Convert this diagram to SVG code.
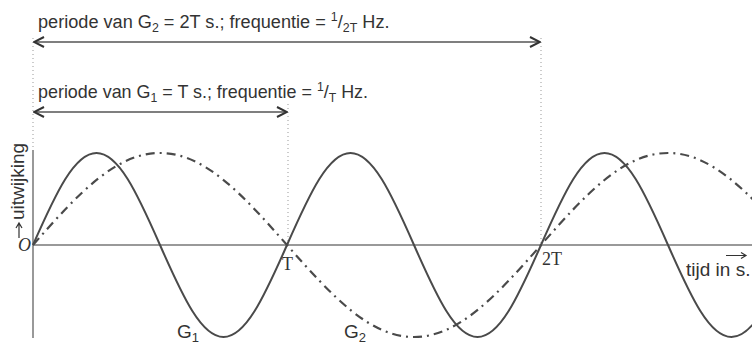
<svg xmlns="http://www.w3.org/2000/svg" width="752" height="344" viewBox="0 0 752 344">
<style>
.lbl{font-family:"Liberation Sans","DejaVu Sans",sans-serif;font-size:19px;fill:#333}
.sub{font-size:13px}
.ser{font-family:"Liberation Serif","DejaVu Serif",serif;font-size:18px;fill:#333}
.it{font-style:italic}
.axis{stroke:#777;stroke-width:1.5;fill:none}
.dot{stroke:#999;stroke-width:1;stroke-dasharray:1 3;fill:none}
.dim{stroke:#555;stroke-width:1.5;fill:none;marker-start:url(#ah);marker-end:url(#ah)}
.g1{stroke:#4a4a4a;stroke-width:2;fill:none}
.g2{stroke:#4a4a4a;stroke-width:2.2;fill:none;stroke-dasharray:9 5 2 5}
.sarr{stroke:#333;stroke-width:1.2;fill:none}
</style>
<defs>
<marker id="ah" viewBox="0 0 12 12" refX="11" refY="6" markerWidth="12" markerHeight="12" markerUnits="userSpaceOnUse" orient="auto-start-reverse">
<path d="M1,1 L11,6 L1,11" fill="none" stroke="#333" stroke-width="2"/>
</marker>
</defs>
<g id="guides">
<line class="dot" x1="33" y1="38" x2="33" y2="150"/>
<line class="dot" x1="288" y1="104" x2="288" y2="245"/>
<line class="dot" x1="541" y1="38" x2="541" y2="245"/>
</g>
<g id="axes">
<line class="axis" x1="33" y1="150" x2="33" y2="338"/>
<line class="axis" x1="33" y1="245" x2="752" y2="245"/>
</g>
<g id="connectors">
<line class="dim" x1="34" y1="42" x2="540" y2="42"/>
<line class="dim" x1="34" y1="112" x2="287" y2="112"/>
</g>
<g id="curve-g1">
<path class="g1" d="M33,245 c 23.13,-52.64 41.57,-92 63.5,-92 s 40.37,39.36 63.5,92 s 41.57,92 63.5,92 s 40.37,-39.36 63.5,-92 s 41.57,-92 63.5,-92 s 40.37,39.36 63.5,92 s 41.57,92 63.5,92 s 40.37,-39.36 63.5,-92 s 41.57,-92 63.5,-92 s 40.37,39.36 63.5,92 s 41.57,92 63.5,92 s 40.37,-39.36 63.5,-92"/>
</g>
<g id="curve-g2">
<path class="g2" d="M33,245 c 46.25,-52.64 83.15,-92 127,-92 s 80.75,39.36 127,92 s 83.15,92 127,92 s 80.75,-39.36 127,-92 s 83.15,-92 127,-92 s 80.75,39.36 127,92"/>
</g>
<g id="label-top">
<text class="lbl" transform="translate(38,28) scale(0.955,1)" x="0" y="0">periode van G<tspan class="sub" dy="4">2</tspan><tspan dy="-4"> = 2T s.; frequentie = </tspan><tspan class="sub" dy="-7">1</tspan><tspan dy="7">/</tspan><tspan class="sub" dy="4">2T</tspan><tspan dy="-4"> Hz.</tspan></text>
</g>
<g id="label-mid">
<text class="lbl" transform="translate(38,98) scale(0.943,1)" x="0" y="0">periode van G<tspan class="sub" dy="4">1</tspan><tspan dy="-4"> = T s.; frequentie = </tspan><tspan class="sub" dy="-7">1</tspan><tspan dy="7">/</tspan><tspan class="sub" dy="4">T</tspan><tspan dy="-4"> Hz.</tspan></text>
</g>
<g id="label-y">
<path class="sarr" d="M19,238 V223 M16,228 L19,223 L22,228"/>
<text class="lbl" transform="translate(24,220) rotate(-90)" x="0" y="0">uitwijking</text>
</g>
<g id="label-x">
<text class="lbl" x="686" y="276" font-size="18">tijd in s.</text>
<path class="sarr" d="M726,255.5 H746 M741,252.5 L746,255.5 L741,258.5"/>
</g>
<g id="ticks">
<text class="ser it" x="18" y="251">O</text>
<text class="ser" x="282" y="270">T</text>
<text class="ser" x="542" y="265">2T</text>
</g>
<g id="names">
<text class="lbl" x="177" y="338">G<tspan class="sub" dy="4">1</tspan></text>
<text class="lbl" x="344" y="338">G<tspan class="sub" dy="4">2</tspan></text>
</g>
</svg>
